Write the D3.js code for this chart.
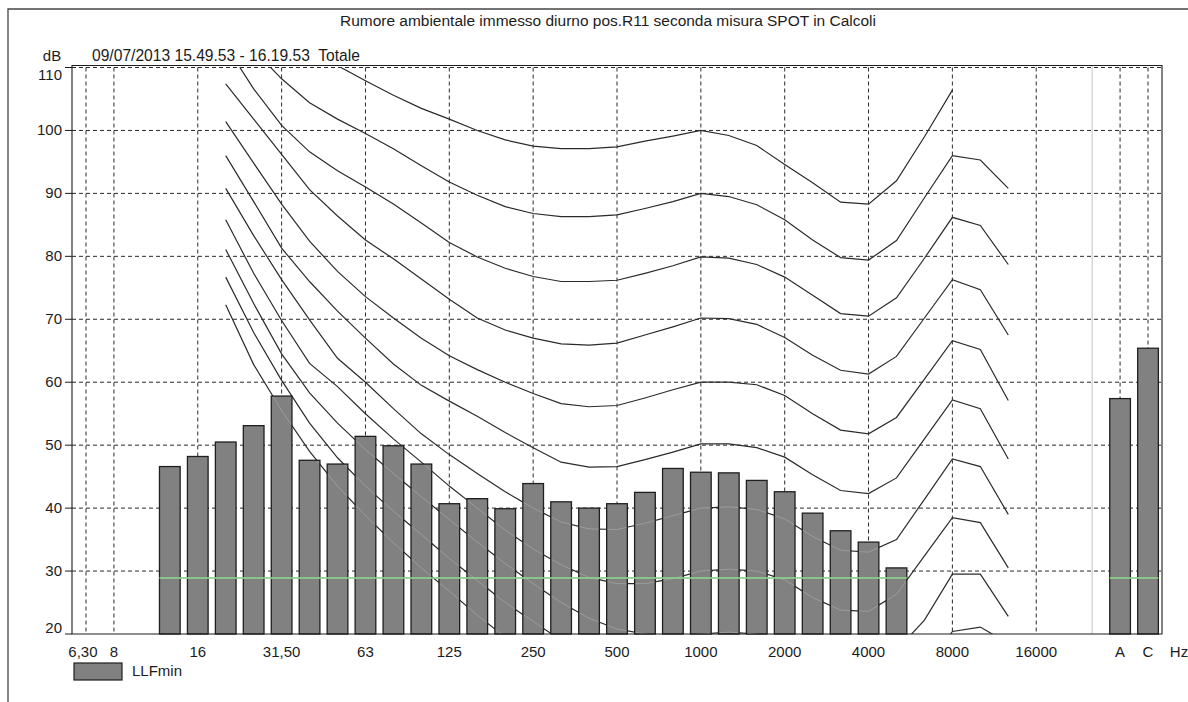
<!DOCTYPE html>
<html>
<head>
<meta charset="utf-8">
<script src="https://cdn.jsdelivr.net/npm/d3@7"></script>
<style>
  html, body { margin: 0; padding: 0; background: #fff; }
  svg { display: block; font-family: "Liberation Sans", Arial, sans-serif; }
</style>
</head>
<body>
<svg id="chart" width="1188" height="702"></svg>
<script>
// ---------- DATA ----------
const titleText = "Rumore ambientale immesso diurno pos.R11 seconda misura SPOT in Calcoli";
const subtitleText = "09/07/2013 15.49.53 - 16.19.53  Totale";
const seriesName = "LLFmin";

// x slots (third-octave bands + totals)
const slots = ["6.3","8","10","12.5","16","20","25","31.5","40","50","63","80","100","125","160","200","250","315","400","500","630","800","1000","1250","1600","2000","2500","3150","4000","5000","6300","8000","10000","12500","16000","20000","sep","A","C"];

const xTickSlots = ["6.3","8","16","31.5","63","125","250","500","1000","2000","4000","8000","16000","A","C"];
const xTickTexts = ["6,30","8","16","31,50","63","125","250","500","1000","2000","4000","8000","16000","A","C"];
const gridSlots  = ["6.3","8","16","31.5","63","125","250","500","1000","2000","4000","8000","16000","A","C"];
const yTicks = [20,30,40,50,60,70,80,90,100,110];

// LLFmin bars
const barBands  = ["12.5","16","20","25","31.5","40","50","63","80","100","125","160","200","250","315","400","500","630","800","1000","1250","1600","2000","2500","3150","4000","5000"];
const barValues = [46.6,48.2,50.5,53.1,57.8,47.6,47.0,51.4,49.9,47.0,40.7,41.5,39.9,43.9,41.0,40.0,40.7,42.5,46.3,45.7,45.6,44.4,42.6,39.2,36.4,34.6,30.5];
const totalBands  = ["A","C"];
const totalValues = [57.4,65.4];

// green reference level
const greenLevel = [28.9];

// contour curves (equal-loudness style)
const curveBands = ["20","25","31.5","40","50","63","80","100","125","160","200","250","315","400","500","630","800","1000","1250","1600","2000","2500","3150","4000","5000","6300","8000","10000","12500"];
const iso100 = [135,128,122,115.5,110.3,107.9,105.6,103.5,101.8,100.0,98.5,97.5,97.1,97.1,97.4,98.3,99.1,100.0,99.2,97.6,94.6,91.7,88.6,88.3,92.0,99.0,106.4,null,null];
const iso90  = [119,112.8,108.2,104.4,101.8,99.5,97.1,94.4,91.8,89.7,87.9,86.8,86.3,86.3,86.6,87.6,88.7,90.0,89.5,88.2,85.8,82.6,79.8,79.4,82.5,89.3,96.0,95.3,90.8];
const iso80  = [113.5,106.6,100.8,96.6,93.6,91.0,88.3,85.3,82.2,79.9,78.1,76.8,76.0,76.0,76.2,77.3,78.5,79.9,79.7,78.7,76.7,73.8,70.9,70.5,73.4,79.7,86.2,84.9,78.7];
const iso70  = [107.4,101.8,96.2,90.6,86.4,82.6,79.6,76.4,73.2,70.2,68.3,67.0,66.1,65.9,66.2,67.5,68.8,70.2,70.1,69.2,67.1,64.3,61.9,61.3,64.1,70.2,76.3,74.7,67.5];
const iso60  = [101.4,94.8,88.3,82.4,77.6,73.6,70.2,67.0,64.2,62.0,60.0,58.2,56.6,56.1,56.3,57.5,58.8,60.0,60.0,59.6,57.9,55.0,52.4,51.8,54.4,60.5,66.6,65.2,57.1];
const iso50  = [96.0,88.7,81.3,76.0,71.3,67.0,62.9,59.5,57.0,54.6,52.0,49.6,47.3,46.5,46.6,47.7,48.9,50.2,50.2,49.6,48.1,45.3,42.8,42.3,44.8,51.0,57.2,55.8,47.8];
const iso40  = [90.8,83.3,76.3,69.9,63.8,60.0,55.8,51.8,48.5,45.5,42.6,40.0,37.8,36.7,36.6,37.6,38.8,40.0,40.2,39.8,38.3,35.5,33.3,33.0,35.0,41.4,47.8,46.6,39.0];
const iso30  = [85.8,77.3,69.8,63.0,59.3,55.0,51.0,47.3,43.5,40.0,36.5,33.5,31.0,29.0,28.0,28.0,28.8,30.0,30.3,30.0,28.6,25.8,23.8,23.6,26.3,32.4,38.5,37.7,30.5];
const iso20  = [81.1,72.5,64.5,58.3,53.5,49.3,45.5,41.8,38.2,34.6,31.2,28.0,25.0,22.5,20.8,20.0,19.8,20.0,20.3,20.0,18.8,16.0,14.0,13.8,17.4,22.2,29.5,29.5,22.8];
const iso10  = [76.7,67.9,60.3,53.5,48.0,43.5,39.5,35.8,32.0,28.5,25.0,22.0,19.0,16.0,13.5,11.5,10.5,10.0,10.3,10.0,8.8,6.0,4.0,3.8,7.5,14.0,20.4,21.1,18.5];
const iso0   = [72.3,62.8,55.5,49.0,43.5,38.8,34.5,30.5,26.8,23.0,19.5,16.0,13.0,9.0,5.0,2.0,0.5,0.0,0.3,0.0,-1.2,-4.0,-6.0,-6.2,-2.5,4.0,10.4,11.1,8.5];
const curves = [iso100, iso90, iso80, iso70, iso60, iso50, iso40, iso30, iso20, iso10, iso0];

// ---------- LAYOUT ----------
const svg = d3.select("#chart");
const plot = {left: 72, right: 1162, top: 67.5, bottom: 634};
const ink = "#1c1c1c";
const fs = 15;

const x = d3.scaleBand().domain(slots).range([plot.left, plot.right]).paddingInner(0.26).paddingOuter(0.13);
const bw = x.bandwidth();
const xc = s => x(s) + bw / 2;
const y = d3.scaleLinear().domain([20, 110]).range([plot.bottom, plot.top]);

// scale a text's font size so that it spans a given width
function fitWidth(sel, target) {
  const w = sel.node().getComputedTextLength();
  const f = parseFloat(sel.attr("font-size"));
  if (w > 0) sel.attr("font-size", (f * target / w).toFixed(2));
}

const defs = svg.append("defs");
defs.append("clipPath").attr("id", "plotClip").append("rect")
  .attr("x", plot.left).attr("y", y(110)).attr("width", plot.right - plot.left).attr("height", y(20) - y(110));

// outer frame
svg.append("path").attr("d", `M8,702 L8,9 L1188,9`).attr("fill", "none").attr("stroke", "#444").attr("stroke-width", 1.3);

// title
const t1 = svg.append("text").attr("x", 608).attr("y", 26).attr("text-anchor", "middle")
  .attr("font-size", fs).attr("fill", ink).text(titleText);
fitWidth(t1, 536);
svg.append("text").attr("x", 52).attr("y", 61).attr("text-anchor", "middle")
  .attr("font-size", fs).attr("fill", ink).text("dB");
const t2 = svg.append("text").attr("x", 92).attr("y", 61).attr("font-size", fs).attr("fill", ink)
  .attr("xml:space", "preserve").style("white-space", "pre").text(subtitleText);
fitWidth(t2, 268);

// grid
const grid = svg.append("g");
grid.selectAll("line.h").data(yTicks.filter(d => d > 20)).join("line")
  .attr("x1", plot.left).attr("x2", plot.right).attr("y1", d => y(d)).attr("y2", d => y(d))
  .attr("stroke", "#2a2a2a").attr("stroke-width", 1).attr("stroke-dasharray", "4,3");
grid.selectAll("line.v").data(gridSlots).join("line")
  .attr("x1", d => xc(d)).attr("x2", d => xc(d)).attr("y1", y(110)).attr("y2", plot.bottom)
  .attr("stroke", "#2a2a2a").attr("stroke-width", 1).attr("stroke-dasharray", "4,3");
// separator before totals
grid.append("line").attr("x1", xc("sep")).attr("x2", xc("sep")).attr("y1", plot.top - 2).attr("y2", plot.bottom)
  .attr("stroke", "#c4c4c4").attr("stroke-width", 1);

// curves (dark, below bars)
const line = d3.line()
  .defined(d => d.v !== null)
  .x(d => xc(d.b)).y(d => y(d.v));
const curveData = curves.map(c => curveBands.map((b, i) => ({b, v: c[i]})));
const cg = svg.append("g").attr("clip-path", "url(#plotClip)");
cg.selectAll("path").data(curveData).join("path")
  .attr("d", line).attr("fill", "none").attr("stroke", "#2b2b2b").attr("stroke-width", 1.2);

// bars
const allBars = barBands.map((b, i) => ({b, v: barValues[i]}))
  .concat(totalBands.map((b, i) => ({b, v: totalValues[i]})));
svg.append("g").selectAll("rect").data(allBars).join("rect")
  .attr("x", d => x(d.b)).attr("y", d => y(d.v))
  .attr("width", bw).attr("height", d => y(20) - y(d.v))
  .attr("fill", "#818181").attr("stroke", "#1f1f1f").attr("stroke-width", 1.3);

// faint curve traces seen through the bars
const barClip = defs.append("clipPath").attr("id", "barClip");
barClip.selectAll("rect").data(allBars).join("rect")
  .attr("x", d => x(d.b) + 1).attr("y", d => y(d.v) + 1)
  .attr("width", bw - 2).attr("height", d => y(20) - y(d.v) - 1);
svg.append("g").attr("clip-path", "url(#barClip)")
  .selectAll("path").data(curveData).join("path")
  .attr("d", line).attr("fill", "none").attr("stroke", "#a3a3a3").attr("stroke-width", 0.8);

// green reference line
const greenSegs = [[barBands[0], barBands[barBands.length - 1]], [totalBands[0], totalBands[1]]];
svg.append("g").selectAll("line").data(greenSegs).join("line")
  .attr("x1", d => x(d[0])).attr("x2", d => x(d[1]) + bw)
  .attr("y1", y(greenLevel[0])).attr("y2", y(greenLevel[0]))
  .attr("stroke", "#8fcf8a").attr("stroke-width", 2).attr("opacity", 0.85);

// plot frame
svg.append("path")
  .attr("d", `M${plot.left},${plot.bottom} L${plot.left},${plot.top - 2} L${plot.right},${plot.top - 2} L${plot.right},${plot.bottom} Z`)
  .attr("fill", "none").attr("stroke", ink).attr("stroke-width", 1.1);

// y axis ticks & labels
const ya = svg.append("g");
ya.selectAll("line").data(yTicks).join("line")
  .attr("x1", plot.left - 7).attr("x2", plot.left).attr("y1", d => y(d)).attr("y2", d => y(d))
  .attr("stroke", ink).attr("stroke-width", 1);
ya.selectAll("text").data(yTicks).join("text")
  .attr("x", 62).attr("text-anchor", "end")
  .attr("y", d => d === 110 ? y(d) + 12 : (d === 20 ? y(d) - 1 : y(d) + 5))
  .attr("font-size", fs).attr("fill", ink).text(d => d);

// x labels
const xa = svg.append("g");
xa.selectAll("text").data(xTickSlots).join("text")
  .attr("x", (d, i) => xc(d) + (i === 0 ? -3 : 0)).attr("y", 657).attr("text-anchor", "middle")
  .attr("font-size", fs).attr("fill", ink).text((d, i) => xTickTexts[i]);
xa.append("text").attr("x", plot.right + 17).attr("y", 657).attr("text-anchor", "middle")
  .attr("font-size", fs).attr("fill", ink).text("Hz");

// legend
svg.append("rect").attr("x", 74).attr("y", 663).attr("width", 48).attr("height", 17)
  .attr("fill", "#818181").attr("stroke", "#1f1f1f").attr("stroke-width", 1.2);
svg.append("text").attr("x", 132).attr("y", 676).attr("font-size", fs).attr("fill", ink).text(seriesName);
</script>
</body>
</html>
